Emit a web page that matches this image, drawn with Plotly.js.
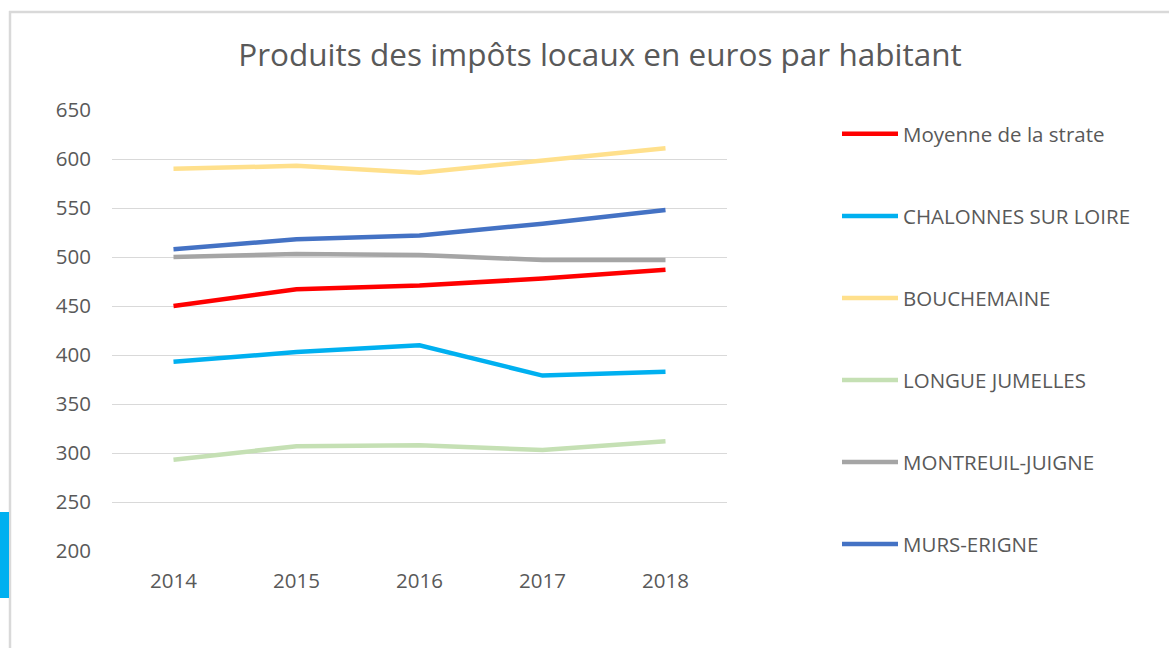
<!DOCTYPE html>
<html>
<head>
<meta charset="utf-8">
<script src="https://cdn.plot.ly/plotly-3.0.1.min.js"></script>
<style>
html,body{margin:0;padding:0;background:#fff;}
#chart{width:1169px;height:648px;}
</style>
</head>
<body>
<div id="chart"></div>
<script>
const years = ["2014", "2015", "2016", "2017", "2018"];
const seriesNames = ["Moyenne de la strate", "CHALONNES SUR LOIRE", "BOUCHEMAINE", "LONGUE JUMELLES", "MONTREUIL-JUIGNE", "MURS-ERIGNE"];
const moyenne = [450, 467, 471, 478, 487];
const chalonnes = [393, 403, 410, 379, 383];
const bouchemaine = [590, 593, 586, 599, 611];
const longue = [293, 307, 308, 303, 312];
const montreuil = [500, 503, 502, 497, 497];
const murs = [508, 518, 522, 534, 548];
const yTicks = [200, 250, 300, 350, 400, 450, 500, 550, 600, 650];

const colors = ["#FF0000", "#00B0F0", "#FFE08C", "#C5E0B4", "#A5A5A5", "#4472C4"];
const values = [moyenne, chalonnes, bouchemaine, longue, montreuil, murs];

const W = 1169, H = 648;
const L = 112, R = 442, T = 110, B = 97;
const pw = W - L - R, ph = H - T - B;
const px = x => (x - L) / pw;
const py = y => (H - B - y) / ph;

const traces = values.map((v, i) => ({
  type: "scatter", mode: "lines", x: years, y: v, name: seriesNames[i],
  legendgroup: "g" + i,
  line: {color: colors[i], width: 4.5, shape: "linear"},
  hoverinfo: "x+y+name"
}));

const layout = {
  width: W, height: H,
  margin: {l: L, r: R, t: T, b: B, pad: 0},
  paper_bgcolor: "#fff", plot_bgcolor: "#fff",
  font: {family: "Open Sans, Liberation Sans, sans-serif", color: "#595959", size: 20.5},
  title: {text: "Produits des impôts locaux en euros par habitant",
    font: {size: 31.5, color: "#595959", family: "Open Sans, Liberation Sans, sans-serif"},
    x: 600 / W, xanchor: "center", y: 1 - 55 / H, yanchor: "middle"},
  xaxis: {type: "category", range: [-0.5, 4.5], showgrid: false, zeroline: false, showline: false,
    ticks: "", ticklabelstandoff: 15, tickfont: {size: 20.5, color: "#595959"}, fixedrange: true},
  yaxis: {range: [200, 650], tickvals: yTicks, showgrid: true, gridcolor: "#D9D9D9", gridwidth: 1,
    zeroline: false, showline: false, ticks: "", ticklabelstandoff: 20,
    tickfont: {size: 20.5, color: "#595959"}, fixedrange: true},
  showlegend: true,
  legend: {x: px(837), y: py(114), xanchor: "left", yanchor: "top",
    tracegroupgap: 52.4, itemwidth: 56, font: {size: 20.5, color: "#595959"},
    bgcolor: "rgba(0,0,0,0)", traceorder: "grouped"},
  shapes: [
    {type: "line", xref: "paper", yref: "paper", x0: px(9), x1: px(1169), y0: py(12), y1: py(12),
      line: {color: "#D9D9D9", width: 2.5}},
    {type: "line", xref: "paper", yref: "paper", x0: px(10), x1: px(10), y0: py(11), y1: py(648),
      line: {color: "#D9D9D9", width: 2.5}},
    {type: "rect", xref: "paper", yref: "paper", x0: px(0), x1: px(9), y0: py(512), y1: py(598),
      line: {width: 0}, fillcolor: "#00B0F0"}
  ]
};

Plotly.newPlot("chart", traces, layout, {displayModeBar: false, staticPlot: true});
</script>
</body>
</html>
